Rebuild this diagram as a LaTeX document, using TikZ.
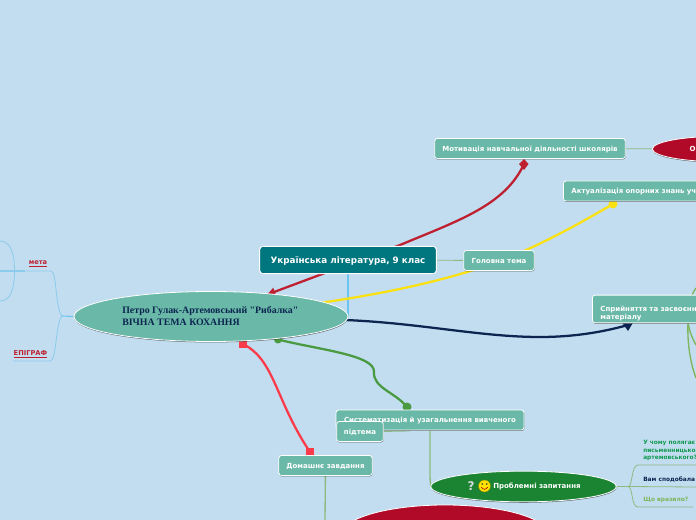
\documentclass[tikz,border=0pt]{standalone}
\usepackage{xcolor}
\usepackage{fontspec}
\setmainfont{DejaVu Sans}
\newfontfamily\serifbold{Liberation Serif}
\usetikzlibrary{arrows.meta,positioning,shapes.geometric,calc,shadows,backgrounds}
\definecolor{mapback}{HTML}{C2DDF0}
\definecolor{maptopic}{HTML}{6AB8A7}
\definecolor{maproot}{HTML}{00767F}
\definecolor{mapred}{HTML}{B00A28}
\definecolor{mapgreen}{HTML}{1A8433}
\definecolor{mapsky}{HTML}{8CCBEB}
\definecolor{mapbright}{HTML}{6CC5F0}
\definecolor{mapleaf}{HTML}{8CBA80}
\definecolor{mapolive}{HTML}{7DB55A}
\definecolor{mapnavy}{HTML}{0B2550}
\definecolor{mapcrim}{HTML}{BE2030}
\definecolor{mapyellow}{HTML}{FBE112}
\definecolor{mapgrass}{HTML}{4A9A42}
\definecolor{maprose}{HTML}{FB3A4A}
\definecolor{mapemerald}{HTML}{129A50}
\tikzset{
  x=0.75pt, y=-0.75pt,
  softshadow/.style={drop shadow={shadow xshift=0.2pt, shadow yshift=-0.7pt, opacity=0.55, fill=black}},
  topicbox/.style={rounded corners=2pt, draw=white, line width=0.6pt, fill=maptopic, softshadow, inner sep=0pt, minimum height=15pt, text depth=0pt, text=white, font=\fontsize{5.25}{7}\selectfont\bfseries},
  rootbox/.style={rounded corners=2.5pt, draw=white, line width=0.7pt, fill=maproot, inner sep=0pt, text depth=0pt, text=white, font=\fontsize{6.6}{9}\selectfont\bfseries},
  ovalbox/.style={ellipse, draw=white, line width=0.6pt, softshadow, inner sep=0pt},
  ovaltext/.style={inner sep=0pt, text=white, font=\fontsize{5.25}{7}\selectfont\bfseries},
  leaflabel/.style={inner sep=0pt, anchor=west, align=left, font=\fontsize{4.4}{5.6}\selectfont\bfseries},
  tinylabel/.style={inner sep=0pt, text=mapcrim, font=\fontsize{5}{6}\selectfont\bfseries},
  thinlink/.style={draw=mapleaf, line width=0.6pt},
  olivelink/.style={draw=mapolive, line width=1pt},
  skylink/.style={draw=mapsky, line width=0.6pt},
  bigcurve/.style={line width=1.7pt}
}
\begin{document}
\begin{tikzpicture}
  \useasboundingbox (0,0) rectangle (696,520);

  % central topic and boxes
  \node[ellipse, draw=white, line width=0.6pt, fill=maptopic, softshadow, minimum width=205.5pt, minimum height=37.5pt, inner sep=0pt] (kohannia) at (211,316.5) {};
  \node[inner sep=0pt, anchor=west, align=left, text=mapnavy, font=\serifbold\fontsize{7.4}{9.6}\selectfont\bfseries] (kohanniatxt) at (122,316) {Петро Гулак-Артемовський "Рибалка"\\ВІЧНА ТЕМА КОХАННЯ};
  \node[rootbox, minimum width=132.5pt, minimum height=20.5pt] (klas) at (348,260) {Українська література, 9 клас};
  \node[topicbox, minimum width=53pt] (tema) at (499,260.5) {Головна тема};
  \node[topicbox, minimum width=143pt] (motyvacia) at (530,148.5) {Мотивація навчальної діяльності школярів};
  \node[topicbox, minimum width=150pt, anchor=west, text width=146pt, align=left] (aktual) at (563,191) {\hspace{4pt}Актуалізація опорних знань уч};
  \node[topicbox, minimum width=150pt, minimum height=20.8pt, anchor=west, text width=146pt, align=left] (spryin) at (592,309) {\hspace{4pt}Сприйняття та засвоєнн\\[-1pt]\hspace{4pt}матеріалу};
  \node[topicbox, minimum width=141pt] (system) at (430,420) {Систематизація й узагальнення вивченого};
  \node[topicbox, minimum width=35pt] (pidtema) at (360,431.5) {підтема};
  \node[topicbox, minimum width=70pt] (domashne) at (325.5,465.5) {Домашнє завдання};

  % ovals
  \node[ovalbox, fill=mapred, minimum width=102pt, minimum height=19pt, anchor=west] (ovalo) at (652,149) {};
  \node[ovaltext] (ovalotxt) at (692.5,149) {О};
  \node[ovalbox, fill=mapgreen, minimum width=139pt, minimum height=23pt] (problem) at (523.5,486.5) {};
  \node[inner sep=0pt, text=white!70!gray, font=\fontsize{9}{9}\selectfont\bfseries] (pytannia) at (471,486) {?};
  \node[circle, fill=yellow!85!orange, draw=olive, line width=0.3pt, minimum size=9pt, inner sep=0pt] (smiley) at (484.5,486) {};
  \fill[black!80, shift={(smiley.center)}] (-2.3,-2) circle (0.9) (2.3,-2) circle (0.9);
  \draw[red!70!black, line width=0.5pt, shift={(smiley.center)}] (-3.2,1.2) .. controls (-1.5,4) and (1.5,4) .. (3.2,1.2);
  \node[ovaltext, anchor=west] (problemtxt) at (493,486.5) {Проблемні запитання};
  \node[ovalbox, fill=mapred, minimum width=156pt, minimum height=45pt] (bottomoval) at (445,535) {};

  % labels
  \node[leaflabel, text=mapemerald] (polagae) at (643,450.5) {У чому полягає\\письменницько\\артемовського?};
  \node[leaflabel, text=mapnavy] (spodob) at (643,479.5) {Вам сподобала};
  \node[leaflabel, text=mapolive] (vrazylo) at (643,499.5) {Що вразило?};
  \node[tinylabel] (meta) at (38,264) {\underline{мета}};
  \node[tinylabel] (epigraf) at (30.5,354.5) {\underline{ЕПІГРАФ}};

  % free ends
  \coordinate (metatop) at (0,241);
  \coordinate (metabot) at (0,301);
  \coordinate (metaleft) at (0,271);
  \coordinate (epiend) at (13,361);
  \coordinate (fork) at (62,316);
  \coordinate (leaffork) at (628,486.5);
  \coordinate (rightfork) at (688,322);
  \coordinate (motend) at (524,164);
  \coordinate (aktend) at (613,204);
  \coordinate (sprend) at (628,325);
  \coordinate (sysend) at (407,407);
  \coordinate (sysstart) at (278,339.5);
  \coordinate (domstart) at (243,344);
  \coordinate (domend) at (310,452);

  \begin{scope}[on background layer]
    \fill[mapback] (0,0) rectangle (696,520);
    % left branch
    \draw[skylink] (metatop) .. controls (11,241) and (14.5,254) .. (14.5,271) .. controls (14.5,288) and (11,301) .. (metabot);
    \draw[skylink, line width=0.8pt] (metaleft) -- (25,271);
    \draw[skylink] (25,271) -- (51,271) .. controls (57,271) and (55,308) .. (fork);
    \draw[skylink] (epiend) -- (50,361) .. controls (57,361) and (55,324) .. (fork);
    \draw[draw=mapbright, line width=0.8pt] (fork) -- (kohannia.west);
    \draw[draw=mapbright, line width=1pt] (klas.south -| 348,316) -- (348,316);
    % big curves
    \draw[mapcrim, bigcurve, -{Latex[length=7pt,width=7pt]}] (motend) .. controls (505,205) and (460,220) .. (400,245) -- (266,295);
    \fill[mapcrim] (524,159) -- (528.5,164) -- (524,170) -- (519,164) -- cycle;
    \draw[mapyellow, bigcurve] (aktend) .. controls (560,235) and (520,255) .. (480,268) .. controls (430,284) and (380,294) .. (320,303);
    \fill[mapyellow] (aktend) circle (4.5);
    \draw[mapnavy, bigcurve] (345,320) .. controls (420,323) and (480,337) .. (540,337) .. controls (580,337) and (610,330) .. (sprend);
    \fill[mapnavy] (621,321) -- (634,321) -- (628,331) -- cycle;
    \draw[mapgrass, bigcurve] (sysstart) .. controls (320,350) and (375,355) .. (374,372) .. controls (373,388) and (395,392) .. (sysend);
    \fill[mapgrass] (sysend) circle (4.5);
    \fill[mapgrass] (sysstart) circle (4);
    \draw[maprose, bigcurve] (domstart) .. controls (275,360) and (275,400) .. (domend);
    \fill[maprose] (239,341) rectangle (247,348);
    \fill[maprose] (306,448) rectangle (314,456);
    % green links
    \draw[thinlink] (klas) -- (tema);
    \draw[thinlink] (motyvacia) -- (ovalo);
    \draw[thinlink] (pidtema.east) -- (410,431);
    \draw[olivelink] (696,288) .. controls (690,296) and (688,310) .. (rightfork);
    \draw[olivelink] (rightfork) .. controls (689,330) and (692,338) .. (696,345);
    \draw[olivelink] (rightfork) .. controls (687,345) and (691,365) .. (696,378);
    \draw[thinlink, line width=1pt] (system.south -| 430,428) -- (430,476) .. controls (430,482) and (431,485) .. (problem.west);
    \draw[thinlink, line width=1pt] (domashne) -- (325,520);
    \draw[thinlink, line width=0.8pt] (problem.east) -- (leaffork);
    \draw[thinlink] (leaffork) .. controls (633,486.5) and (631,465) .. (638,465) -- (696,465);
    \draw[thinlink] (leaffork) -- (696,487);
    \draw[thinlink] (leaffork) .. controls (633,486.5) and (631,507) .. (638,507) -- (693,507);
  \end{scope}
\end{tikzpicture}
\end{document}
